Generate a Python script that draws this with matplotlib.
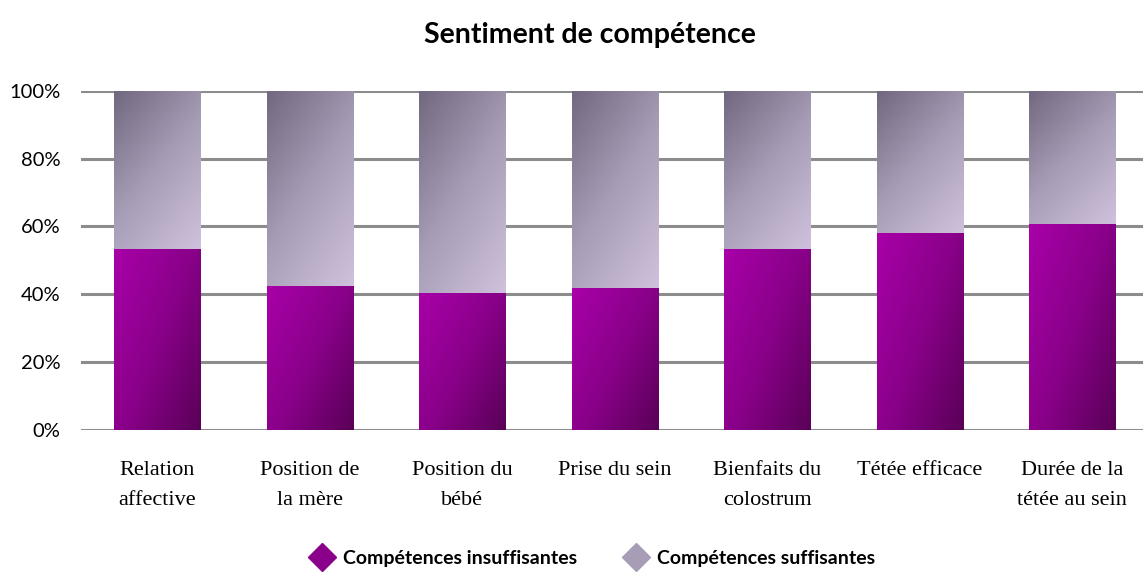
import matplotlib
matplotlib.use('Agg')
import matplotlib.pyplot as plt
import numpy as np
from matplotlib.colors import LinearSegmentedColormap
from matplotlib.lines import Line2D

categories = ['Relation\naffective', 'Position de\nla mère', 'Position du\nbébé',
              'Prise du sein', 'Bienfaits du\ncolostrum', 'Tétée efficace',
              'Durée de la\ntétée au sein']
insuffisantes = [53.5, 42.4, 40.3, 41.8, 53.5, 58.2, 60.7]
suffisantes = [46.5, 57.6, 59.7, 58.2, 46.5, 41.8, 39.3]
yticks = [0, 20, 40, 60, 80, 100]

purple_cmap = LinearSegmentedColormap.from_list('purple', ['#a800a8', '#8a008a', '#5a0058'])
lavender_cmap = LinearSegmentedColormap.from_list('lavender', ['#726880', '#a79db6', '#cfc1dd'])


def gradient_fill(ax, bars, cmap, wu, wv):
    u, v = np.meshgrid(np.linspace(0, 1, 60), np.linspace(0, 1, 60))
    grad = (u * wu + v * wv)
    for bar in bars:
        x, y = bar.get_x(), bar.get_y()
        w, h = bar.get_width(), bar.get_height()
        bar.set_facecolor('none')
        ax.imshow(grad, cmap=cmap, extent=[x, x + w, y, y + h], origin='upper',
                  aspect='auto', zorder=3, interpolation='bilinear')


fig = plt.figure(figsize=(11.43, 5.79), dpi=100)
ax = fig.add_axes([0.0709, 0.2573, 0.934, 0.586])

x = np.arange(len(categories))
bars1 = ax.bar(x, insuffisantes, width=0.567, zorder=3, linewidth=0)
bars2 = ax.bar(x, suffisantes, width=0.567, bottom=insuffisantes, zorder=3, linewidth=0)
gradient_fill(ax, bars1, purple_cmap, 0.55, 0.45)
gradient_fill(ax, bars2, lavender_cmap, 0.4, 0.6)

ax.set_xlim(-0.5, len(categories) - 0.5)
ax.set_ylim(0, 100)
ax.set_yticks(yticks)
ax.set_yticklabels([f'{t}%' for t in yticks], fontfamily='Lato', fontsize=14.5)
ax.set_xticks(x)
ax.set_xticklabels(categories, fontfamily='Liberation Serif', fontsize=16, linespacing=1.85)
ax.tick_params(length=0)
ax.tick_params(axis='y', pad=15)
ax.tick_params(axis='x', pad=22)
for s in ax.spines.values():
    s.set_visible(False)
ax.yaxis.grid(True, color='#8c8c8c', linewidth=2.2, zorder=1)
ax.set_axisbelow(True)

fig.suptitle('Sentiment de compétence', x=0.516, y=0.962, fontfamily='Lato',
             fontweight='bold', fontsize=20.5)

handles = [Line2D([], [], marker='D', linestyle='none', markersize=14, color='#8a008a'),
           Line2D([], [], marker='D', linestyle='none', markersize=14, color='#a79db6')]
fig.legend(handles, ['Compétences insuffisantes', 'Compétences suffisantes'],
           loc='center', bbox_to_anchor=(0.515, 0.036), ncol=2, frameon=False,
           prop={'family': 'Lato', 'weight': 'bold', 'size': 14},
           handletextpad=0.1, columnspacing=2.0)

fig.savefig('out.png', dpi=100)
